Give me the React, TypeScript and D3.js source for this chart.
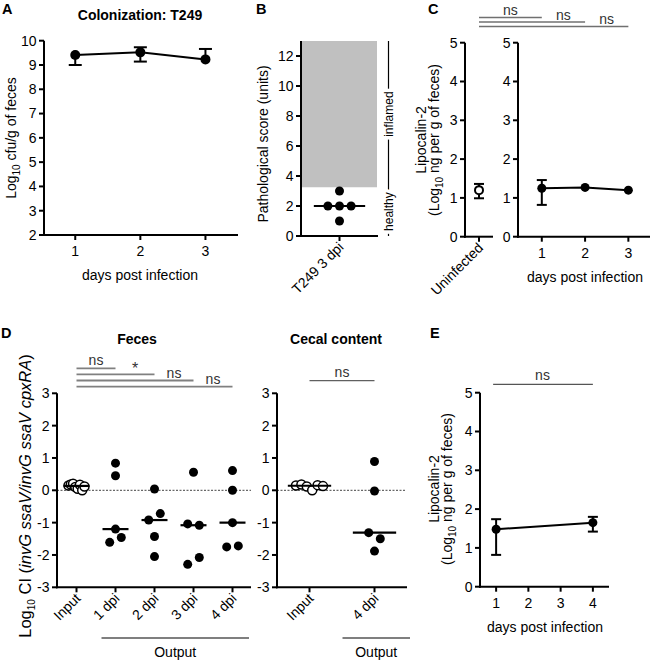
import React from 'react';
import * as d3 from 'd3';

const FONT = "'Liberation Sans', Arial, Helvetica, sans-serif";

// ---------- Panel A: colonization ----------
const aDays = [1, 2, 3];
const aMean = [9.41, 9.52, 9.23];
const aLow = [9.0, 9.14, 9.15];
const aHigh = [9.59, 9.73, 9.66];
const aYTicks = [2, 3, 4, 5, 6, 7, 8, 9, 10];
const aXTicks = [1, 2, 3];

// ---------- Panel B: pathology ----------
const bCategories = ['T249 3 dpi'];
const bScores = [3, 2, 2, 2, 1];
const bYTicks = [0, 2, 4, 6, 8, 10, 12];
const bInflamedRange = [3.25, 13];
const bHealthyRange = [0, 3.25];

// ---------- Panel C: lipocalin-2 ----------
const cUninfCategories = ['Uninfected'];
const cUninfMean = [1.2];
const cUninfLow = [0.99];
const cUninfHigh = [1.36];
const cDays = [1, 2, 3];
const cMean = [1.25, 1.27, 1.2];
const cLow = [0.82, 1.27, 1.2];
const cHigh = [1.46, 1.27, 1.2];
const cYTicks = [0, 1, 2, 3, 4, 5];
const cXTicks = [1, 2, 3];
const cSigLabels = ['ns', 'ns', 'ns'];

// ---------- Panel D: competitive index ----------
const dFecesCategories = ['Input', '1 dpi', '2 dpi', '3 dpi', '4 dpi'];
const dFecesInput = [0.15, 0.18, 0.2, 0.1, 0.05, 0.17, 0.0, 0.12];
const dFeces1 = [0.84, 0.45, -1.2, -1.61, -1.46];
const dFeces2 = [0.04, -0.92, -0.72, -1.43, -2.05];
const dFeces3 = [0.56, -1.04, -1.08, -2.29, -2.08];
const dFeces4 = [0.61, 0.0, -1.0, -1.75, -1.72];
const dFecesSig = ['ns', '*', 'ns', 'ns'];
const dCecalCategories = ['Input', '4 dpi'];
const dCecalInput = [0.15, 0.18, 0.12, 0.0, 0.16, 0.13];
const dCecal4 = [0.89, -0.02, -1.31, -1.5, -1.88];
const dCecalSig = ['ns'];
const dYTicks = [-3, -2, -1, 0, 1, 2, 3];

// ---------- Panel E: lipocalin-2 ----------
const eDays = [1, 4];
const eMean = [1.48, 1.65];
const eLow = [0.82, 1.42];
const eHigh = [1.74, 1.8];
const eXTicks = [1, 2, 3, 4];
const eYTicks = [0, 1, 2, 3, 4, 5];
const eSigLabels = ['ns'];

const R = 4.5;
const AX = 2;

function swarm(values: number[], y: (v: number) => number, step: number, maxSpread: number, rowH = 10): number[] {
  const idx = values.map((_, i) => i).sort((a, b) => y(values[b]) - y(values[a]));
  const clusters: number[][] = [];
  let cur: number[] = [];
  let startY = 0;
  for (const i of idx) {
    const py = y(values[i]);
    if (cur.length && Math.abs(startY - py) < rowH) cur.push(i);
    else {
      if (cur.length) clusters.push(cur);
      cur = [i];
      startY = py;
    }
  }
  if (cur.length) clusters.push(cur);
  const off = new Array(values.length).fill(0);
  for (const c of clusters) {
    c.sort((a, b) => a - b);
    const n = c.length;
    const s = n > 1 ? Math.min(step, maxSpread / (n - 1)) : 0;
    c.forEach((i, k) => (off[i] = (k - (n - 1) / 2) * s));
  }
  return off;
}

function YAxis({ x, scale, ticks, top, bottom, gap = 7.5 }: any) {
  return (
    <g>
      <line x1={x} x2={x} y1={bottom + 1} y2={top} stroke="#000" strokeWidth={AX} />
      {ticks.map((t: number) => (
        <g key={t}>
          <line x1={x - 5} x2={x} y1={scale(t)} y2={scale(t)} stroke="#000" strokeWidth={AX} />
          <text x={x - gap} y={scale(t)} dy="0.35em" textAnchor="end" fontSize={14}>
            {String(t)}
          </text>
        </g>
      ))}
    </g>
  );
}

function XAxisNum({ y, x0, x1, scale, ticks }: any) {
  return (
    <g>
      <line x1={x0 - 1} x2={x1} y1={y} y2={y} stroke="#000" strokeWidth={AX} />
      {ticks.map((t: number) => (
        <g key={t}>
          <line x1={scale(t)} x2={scale(t)} y1={y} y2={y + 5} stroke="#000" strokeWidth={AX} />
          <text x={scale(t)} y={y + 21} textAnchor="middle" fontSize={14}>
            {String(t)}
          </text>
        </g>
      ))}
    </g>
  );
}

function XAxisCat({ y, x0, x1, centers, labels }: any) {
  return (
    <g>
      <line x1={x0 - 1} x2={x1} y1={y} y2={y} stroke="#000" strokeWidth={AX} />
      {labels.map((l: string, i: number) => (
        <g key={l}>
          <line x1={centers[i]} x2={centers[i]} y1={y} y2={y + 5} stroke="#000" strokeWidth={AX} />
          <text transform={`translate(${centers[i] + 5},${y + 12}) rotate(-45)`} textAnchor="end" fontSize={14}>
            {l}
          </text>
        </g>
      ))}
    </g>
  );
}

function ErrBar({ x, ym, yl, yh, cap }: any) {
  return (
    <g stroke="#000" strokeWidth={2}>
      {Math.abs(yh - yl) > 0.5 && <line x1={x} x2={x} y1={yh} y2={yl} />}
      {ym - yh > R && <line x1={x - cap} x2={x + cap} y1={yh} y2={yh} />}
      {yl - ym > R && <line x1={x - cap} x2={x + cap} y1={yl} y2={yl} />}
    </g>
  );
}

function Scatter({ values, center, y, open, spread, medHalf }: any) {
  const off = swarm(values, y, 11.6, spread);
  const med = d3.median(values) as number;
  return (
    <g>
      {values.map((v: number, i: number) => (
        <circle key={i} cx={center + off[i]} cy={y(v)} r={R} fill={open ? '#fff' : '#000'} stroke="#000" strokeWidth={open ? 1.5 : 0} />
      ))}
      <line x1={center - medHalf} x2={center + medHalf} y1={y(med)} y2={y(med)} stroke="#000" strokeWidth={2.2} />
    </g>
  );
}

export default function App() {
  // ---- Panel A
  const aX = d3.scaleLinear().domain([0.52, 3.5]).range([44, 238]);
  const aY = d3.scaleLinear().domain([2, 10]).range([235, 40.7]);
  const aLine = d3.line<number>().x((_, i) => aX(aDays[i])).y((d) => aY(d));

  // ---- Panel B
  const bX = d3.scaleBand().domain(bCategories).range([301, 378]);
  const bY = d3.scaleLinear().domain([0, 13]).range([236, 41]);
  const bC = (bX(bCategories[0]) as number) + bX.bandwidth() / 2;
  const bOff = swarm(bScores, bY, 11.6, 60);
  const bMed = d3.median(bScores) as number;

  // ---- Panel C
  const cY = d3.scaleLinear().domain([0, 5]).range([236.7, 42.7]);
  const cUX = d3.scaleBand().domain(cUninfCategories).range([465, 493]);
  const cUC = (cUX(cUninfCategories[0]) as number) + cUX.bandwidth() / 2;
  const cX = d3.scaleLinear().domain([0.45, 3.5]).range([518, 650]);
  const cLine = d3.line<number>().x((_, i) => cX(cDays[i])).y((d) => cY(d));

  // ---- Panel D
  const dY = d3.scaleLinear().domain([-3, 3]).range([587.3, 393.3]);
  const fX = d3.scaleBand().domain(dFecesCategories).range([57, 252]);
  const fC = dFecesCategories.map((c) => (fX(c) as number) + fX.bandwidth() / 2);
  const fGroups = [dFecesInput, dFeces1, dFeces2, dFeces3, dFeces4];
  const ccX = d3.scaleBand().domain(dCecalCategories).range([277, 407]);
  const ccC = dCecalCategories.map((c) => (ccX(c) as number) + ccX.bandwidth() / 2);
  const ccGroups = [dCecalInput, dCecal4];

  // ---- Panel E
  const eY = d3.scaleLinear().domain([0, 5]).range([586.7, 392.7]);
  const eX = d3.scaleLinear().domain([0.5, 4.5]).range([480, 609]);
  const eLine = d3.line<number>().x((_, i) => eX(eDays[i])).y((d) => eY(d));

  const sub = (t: string) => (
    <>
      <tspan dy="3.5" fontSize={10}>{t}</tspan>
    </>
  );

  return (
    <svg width={650} height={661} style={{ position: 'absolute', left: 0, top: 0, display: 'block', background: '#fff' }} fontFamily={FONT} fill="#000">
      <rect x={0} y={0} width={650} height={661} fill="#fff" />

      {/* ================= A ================= */}
      <text x={2} y={13.5} fontSize={14.5} fontWeight="bold">A</text>
      <text x={140} y={20} fontSize={14} fontWeight="bold" textAnchor="middle">Colonization: T249</text>
      <YAxis x={44} scale={aY} ticks={aYTicks} top={aY(10)} bottom={aY(2)} />
      <XAxisNum y={aY(2)} x0={44} x1={238} scale={aX} ticks={aXTicks} />
      <text x={140} y={280} fontSize={14} textAnchor="middle">days post infection</text>
      <text transform={`translate(16,138) rotate(-90)`} fontSize={14} textAnchor="middle">
        Log{sub('10')}<tspan dy="-3.5"> cfu/g of feces</tspan>
      </text>
      <path d={aLine(aMean) || ''} fill="none" stroke="#000" strokeWidth={2} />
      {aDays.map((d, i) => (
        <ErrBar key={d} x={aX(d)} ym={aY(aMean[i])} yl={aY(aLow[i])} yh={aY(aHigh[i])} cap={6.5} />
      ))}
      {aDays.map((d, i) => (
        <circle key={d} cx={aX(d)} cy={aY(aMean[i])} r={R + 0.5} fill="#000" />
      ))}

      {/* ================= B ================= */}
      <text x={256} y={13.5} fontSize={14.5} fontWeight="bold">B</text>
      <rect x={301} y={bY(bInflamedRange[1])} width={377 - 301} height={bY(bInflamedRange[0]) - bY(bInflamedRange[1])} fill="#c0c0c0" />
      <YAxis x={301} scale={bY} ticks={bYTicks} top={bY(13)} bottom={bY(0)} />
      <XAxisCat y={bY(0)} x0={301} x1={378} centers={[bC]} labels={bCategories} />
      <text transform={`translate(268,144) rotate(-90)`} fontSize={14} textAnchor="middle">Pathological score (units)</text>
      <line x1={bC - bX.bandwidth() / 3} x2={bC + bX.bandwidth() / 3} y1={bY(bMed)} y2={bY(bMed)} stroke="#000" strokeWidth={2.2} />
      {bScores.map((v, i) => (
        <circle key={i} cx={bC + bOff[i]} cy={bY(v)} r={R} fill="#000" />
      ))}
      <line x1={388.5} x2={388.5} y1={bY(bInflamedRange[1])} y2={bY(0)} stroke="#000" strokeWidth={1.2} />
      <text transform={`translate(388.5,${(bY(bInflamedRange[0]) + bY(bInflamedRange[1])) / 2}) rotate(-90)`} dy="0.35em" fontSize={12} textAnchor="middle" stroke="#fff" strokeWidth={7} paintOrder="stroke">inflamed</text>
      <text transform={`translate(388.5,${(bY(bHealthyRange[0]) + bY(bHealthyRange[1])) / 2}) rotate(-90)`} dy="0.35em" fontSize={12} textAnchor="middle" stroke="#fff" strokeWidth={7} paintOrder="stroke">healthy</text>

      {/* ================= C ================= */}
      <text x={428} y={13.5} fontSize={14.5} fontWeight="bold">C</text>
      <YAxis x={465} scale={cY} ticks={cYTicks} top={cY(5)} bottom={cY(0)} />
      <XAxisCat y={cY(0)} x0={465} x1={493} centers={[cUC]} labels={cUninfCategories} />
      <YAxis x={518} scale={cY} ticks={cYTicks} top={cY(5)} bottom={cY(0)} />
      <XAxisNum y={cY(0)} x0={518} x1={650} scale={cX} ticks={cXTicks} />
      <text x={585} y={282} fontSize={14} textAnchor="middle">days post infection</text>
      <text transform={`translate(426,140) rotate(-90)`} fontSize={14} textAnchor="middle">Lipocalin-2</text>
      <text transform={`translate(439,140) rotate(-90)`} fontSize={14} textAnchor="middle">
        (Log{sub('10')}<tspan dy="-3.5"> ng per g of feces)</tspan>
      </text>
      <ErrBar x={cUC} ym={cY(cUninfMean[0])} yl={cY(cUninfLow[0])} yh={cY(cUninfHigh[0])} cap={5} />
      <circle cx={cUC} cy={cY(cUninfMean[0])} r={R - 0.5} fill="#fff" stroke="#000" strokeWidth={2} />
      <path d={cLine(cMean) || ''} fill="none" stroke="#000" strokeWidth={2} />
      {cDays.map((d, i) => (
        <ErrBar key={d} x={cX(d)} ym={cY(cMean[i])} yl={cY(cLow[i])} yh={cY(cHigh[i])} cap={5} />
      ))}
      {cDays.map((d, i) => (
        <circle key={d} cx={cX(d)} cy={cY(cMean[i])} r={R} fill="#000" />
      ))}
      {cSigLabels.map((s, i) => {
        const yy = 17.5 + i * 4.5;
        const xs = i === 0 ? cUC : cX(cDays[i - 1]);
        return (
          <g key={i}>
            <line x1={cUC} x2={cX(cDays[i])} y1={yy} y2={yy} stroke="#707070" strokeWidth={1.3} />
            <text x={(xs + cX(cDays[i])) / 2} y={yy - 2.5} fontSize={14} textAnchor="middle" fill="#333">{s}</text>
          </g>
        );
      })}

      {/* ================= D ================= */}
      <text x={1} y={338} fontSize={14.5} fontWeight="bold">D</text>
      <text x={137} y={344} fontSize={14} fontWeight="bold" textAnchor="middle">Feces</text>
      <text x={336} y={344} fontSize={14} fontWeight="bold" textAnchor="middle">Cecal content</text>
      <text transform={`translate(31,496) rotate(-90)`} fontSize={16.5} textAnchor="middle">
        Log{sub('10')}<tspan dy="-3.5"> CI (</tspan>
        <tspan fontStyle="italic">invG ssaV/invG ssaV cpxRA</tspan>)
      </text>
      {/* feces */}
      <line x1={57} x2={251} y1={dY(0)} y2={dY(0)} stroke="#444" strokeWidth={1} strokeDasharray="2,1.5" />
      <YAxis x={57} scale={dY} ticks={dYTicks} top={dY(3)} bottom={dY(-3)} />
      <XAxisCat y={dY(-3)} x0={57} x1={251} centers={fC} labels={dFecesCategories} />
      {fGroups.map((g, i) => (
        <Scatter key={i} values={g} center={fC[i]} y={dY} open={i === 0} spread={i === 0 ? 16 : 40} medHalf={fX.bandwidth() / 3} />
      ))}
      {dFecesSig.map((s, i) => {
        const yy = 368.3 + i * 6.1;
        const star = s === '*';
        return (
          <g key={i}>
            <line x1={fC[0]} x2={fC[i + 1]} y1={yy} y2={yy} stroke="#808080" strokeWidth={1.8} />
            <text x={(fC[i] + fC[i + 1]) / 2} y={star ? yy - 0.5 : yy - 3} fontSize={star ? 16 : 14} textAnchor="middle" fill="#333">{s}</text>
          </g>
        );
      })}
      <line x1={fC[1] - 14} x2={249} y1={638} y2={638} stroke="#000" strokeWidth={1.2} />
      <text x={(fC[1] - 14 + 249) / 2} y={657} fontSize={14} textAnchor="middle">Output</text>
      {/* cecal */}
      <line x1={277} x2={406} y1={dY(0)} y2={dY(0)} stroke="#444" strokeWidth={1} strokeDasharray="2,1.5" />
      <YAxis x={277} scale={dY} ticks={dYTicks} top={dY(3)} bottom={dY(-3)} />
      <XAxisCat y={dY(-3)} x0={277} x1={407} centers={ccC} labels={dCecalCategories} />
      {ccGroups.map((g, i) => (
        <Scatter key={i} values={g} center={ccC[i]} y={dY} open={i === 0} spread={i === 0 ? 27 : 40} medHalf={ccX.bandwidth() / 3} />
      ))}
      {dCecalSig.map((s, i) => (
        <g key={i}>
          <line x1={ccC[0]} x2={ccC[1]} y1={380.7} y2={380.7} stroke="#606060" strokeWidth={1.3} />
          <text x={(ccC[0] + ccC[1]) / 2} y={377} fontSize={14} textAnchor="middle" fill="#333">{s}</text>
        </g>
      ))}
      <line x1={ccC[1] - 32} x2={410} y1={638} y2={638} stroke="#000" strokeWidth={1.2} />
      <text x={(ccC[1] - 32 + 410) / 2} y={657} fontSize={14} textAnchor="middle">Output</text>

      {/* ================= E ================= */}
      <text x={430} y={338} fontSize={14.5} fontWeight="bold">E</text>
      <YAxis x={480} scale={eY} ticks={eYTicks} top={eY(5)} bottom={eY(0)} />
      <XAxisNum y={eY(0)} x0={480} x1={609} scale={eX} ticks={eXTicks} />
      <text x={545} y={632} fontSize={14} textAnchor="middle">days post infection</text>
      <text transform={`translate(439,489) rotate(-90)`} fontSize={14} textAnchor="middle">Lipocalin-2</text>
      <text transform={`translate(452,489) rotate(-90)`} fontSize={14} textAnchor="middle">
        (Log{sub('10')}<tspan dy="-3.5"> ng per g of feces)</tspan>
      </text>
      <path d={eLine(eMean) || ''} fill="none" stroke="#000" strokeWidth={2} />
      {eDays.map((d, i) => (
        <ErrBar key={d} x={eX(d)} ym={eY(eMean[i])} yl={eY(eLow[i])} yh={eY(eHigh[i])} cap={5} />
      ))}
      {eDays.map((d, i) => (
        <circle key={d} cx={eX(d)} cy={eY(eMean[i])} r={R} fill="#000" />
      ))}
      {eSigLabels.map((s, i) => (
        <g key={i}>
          <line x1={eX(eDays[0]) - 3} x2={eX(eDays[1])} y1={384.3} y2={384.3} stroke="#555" strokeWidth={1.3} />
          <text x={(eX(eDays[0]) + eX(eDays[1])) / 2 - 2} y={380} fontSize={14} textAnchor="middle" fill="#333">{s}</text>
        </g>
      ))}
    </svg>
  );
}
